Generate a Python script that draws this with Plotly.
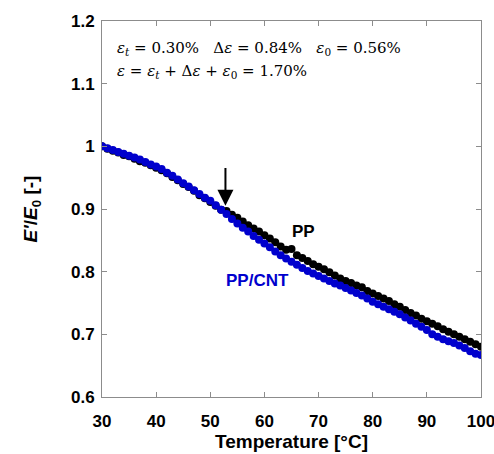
import plotly.graph_objects as go

temperature = list(range(30, 101))

pp_cnt = [1.000, 0.997, 0.994, 0.991, 0.988, 0.985, 0.982, 0.979, 0.975, 0.971,
          0.968, 0.964, 0.958, 0.953, 0.947, 0.941, 0.936, 0.930, 0.924, 0.918,
          0.913, 0.906, 0.899, 0.892, 0.884, 0.877, 0.870, 0.864, 0.857, 0.851,
          0.845, 0.839, 0.832, 0.826, 0.821, 0.816, 0.811, 0.806, 0.801, 0.797,
          0.793, 0.789, 0.785, 0.781, 0.778, 0.774, 0.770, 0.766, 0.762, 0.757,
          0.752, 0.748, 0.744, 0.740, 0.736, 0.732, 0.727, 0.722, 0.717, 0.712,
          0.707, 0.700, 0.696, 0.692, 0.689, 0.686, 0.682, 0.678, 0.673, 0.669,
          0.667]

pp = [1.000, 0.996, 0.993, 0.990, 0.986, 0.984, 0.980, 0.976, 0.974, 0.970,
      0.966, 0.962, 0.957, 0.951, 0.946, 0.940, 0.935, 0.929, 0.922, 0.917,
      0.911, 0.905, 0.899, 0.897, 0.891, 0.886, 0.880, 0.874, 0.869, 0.864,
      0.858, 0.853, 0.847, 0.840, 0.835, 0.836, 0.826, 0.822, 0.817, 0.812,
      0.808, 0.804, 0.799, 0.794, 0.789, 0.785, 0.782, 0.778, 0.775, 0.769,
      0.765, 0.761, 0.757, 0.753, 0.748, 0.744, 0.739, 0.734, 0.730, 0.725,
      0.721, 0.717, 0.713, 0.708, 0.704, 0.700, 0.696, 0.692, 0.688, 0.684,
      0.680]

x_ticks = [30, 40, 50, 60, 70, 80, 90, 100]
y_ticks = [0.6, 0.7, 0.8, 0.9, 1.0, 1.1, 1.2]
y_tick_labels = ["0.6", "0.7", "0.8", "0.9", "1", "1.1", "1.2"]

BLUE = "#0000cd"

fig = go.Figure()
fig.add_trace(go.Scatter(x=temperature, y=pp, mode="markers", name="PP",
                         marker=dict(color="black", size=8)))
fig.add_trace(go.Scatter(x=temperature, y=pp_cnt, mode="markers", name="PP/CNT",
                         marker=dict(color=BLUE, size=8)))

axis_common = dict(showgrid=False, zeroline=False, showline=True, linecolor="#8c8c8c",
                   linewidth=1, mirror="ticks", ticks="inside", ticklen=5,
                   tickcolor="#8c8c8c", automargin=False, ticklabeloverflow="allow",
                   tickfont=dict(family="Arial, Liberation Sans", size=17, color="black"))

fig.update_xaxes(range=[30, 100], tickvals=x_ticks,
                 ticktext=[f"<b>{v}</b>" for v in x_ticks], ticklabelstandoff=9,
                 title=dict(text="<b>Temperature [°C]</b>", standoff=4,
                            font=dict(family="Arial, Liberation Sans", size=19, color="black")),
                 **axis_common)
fig.update_yaxes(range=[0.6, 1.2], tickvals=y_ticks,
                 ticktext=[f"<b>{t}</b>" for t in y_tick_labels], ticklabelstandoff=3,
                 title=dict(text="<b><i>E'</i>/<i>E</i><sub>0</sub> [-]</b>", standoff=28,
                            font=dict(family="Arial, Liberation Sans", size=19, color="black")),
                 **axis_common)

fig.add_annotation(x=52.8, y=0.905, ax=52.8, ay=0.968, xref="x", yref="y",
                   axref="x", ayref="y", showarrow=True, arrowhead=2, arrowsize=1.6,
                   arrowwidth=2, arrowcolor="black", text="")
fig.add_annotation(x=67.2, y=0.864, text="<b>PP</b>", showarrow=False,
                   font=dict(family="Arial, Liberation Sans", size=17, color="black"))
fig.add_annotation(x=58.8, y=0.786, text="<b>PP/CNT</b>", showarrow=False,
                   font=dict(family="Arial, Liberation Sans", size=17, color=BLUE))

serif = "DejaVu Serif, Liberation Serif"
fig.add_annotation(xref="paper", yref="paper", x=0.035, y=0.928, xanchor="left", yanchor="middle",
                   showarrow=False, align="left",
                   text="<i>ε</i><sub><i>t</i></sub> = 0.30%   Δ<i>ε</i> = 0.84%   <i>ε</i><sub>0</sub> = 0.56%",
                   font=dict(family=serif, size=15, color="black"))
fig.add_annotation(xref="paper", yref="paper", x=0.035, y=0.865, xanchor="left", yanchor="middle",
                   showarrow=False, align="left",
                   text="<i>ε</i> = <i>ε</i><sub><i>t</i></sub> + Δ<i>ε</i> + <i>ε</i><sub>0</sub> = 1.70%",
                   font=dict(family=serif, size=15, color="black"))

fig.update_layout(width=494, height=454, margin=dict(l=102, r=13, t=21, b=57),
                  plot_bgcolor="white", paper_bgcolor="white", showlegend=False)

fig.write_html("out.html", config={"displayModeBar": False},
               post_script="document.body.style.margin='0';document.body.style.overflow='hidden';")
